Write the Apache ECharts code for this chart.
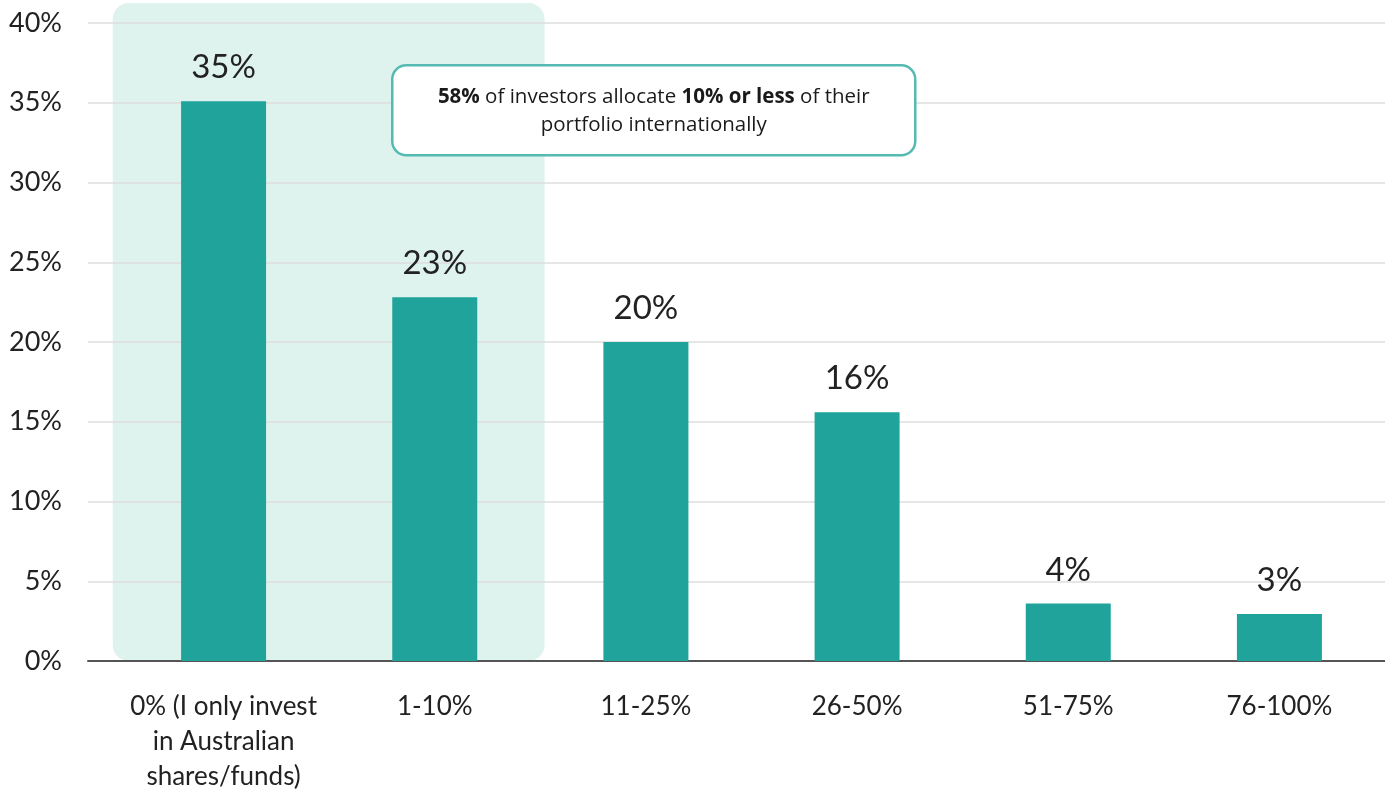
<!DOCTYPE html>
<html>
<head>
<meta charset="utf-8">
<script src="https://cdn.jsdelivr.net/npm/echarts@6/dist/echarts.min.js"></script>
<style>
html,body{margin:0;padding:0;background:#fff;}
#chart{width:1385px;height:789px;}
</style>
</head>
<body>
<div id="chart"></div>
<script>
const categories = ['0% (I only invest\nin Australian\nshares/funds)', '1-10%', '11-25%', '26-50%', '51-75%', '76-100%'];
const shares = [35.1, 22.8, 20.0, 15.6, 3.6, 2.95];
const yTicks = { min: 0, max: 40, interval: 5 };
const highlightCats = [0, 1];
const highlightTop = 41.25;

const FONT = 'Lato, "Noto Sans", sans-serif';
const NOTE_FONT = '"Open Sans", "Liberation Sans", sans-serif';
const chart = echarts.init(document.getElementById('chart'));

const option = {
  animation: false,
  backgroundColor: '#ffffff',
  grid: [
    { left: 88, right: 0, top: 23, bottom: 128, outerBoundsMode: 'none', containLabel: false },
    { left: 118, right: 0, top: 23, bottom: 128, outerBoundsMode: 'none', containLabel: false }
  ],
  xAxis: [
    { gridIndex: 0, type: 'category', data: [''],
      axisLine: { show: true, lineStyle: { color: '#555555', width: 2 } },
      axisTick: { show: false }, axisLabel: { show: false }, z: 3 },
    { gridIndex: 1, type: 'category', data: categories,
      axisLine: { show: false }, axisTick: { show: false },
      axisLabel: { color: '#222222', fontSize: 26, fontFamily: FONT, lineHeight: 35, margin: 28, interval: 0 } }
  ],
  yAxis: [
    { gridIndex: 0, type: 'value', min: yTicks.min, max: yTicks.max, interval: yTicks.interval,
      axisLine: { show: false }, axisTick: { show: false },
      axisLabel: { formatter: '{value}%', color: '#222222', fontSize: 27, fontFamily: FONT, margin: 26 },
      splitLine: { show: true, lineStyle: { color: '#dedede', width: 1.5 } } },
    { gridIndex: 1, type: 'value', min: yTicks.min, max: yTicks.max, interval: yTicks.interval, show: false,
      splitLine: { show: false } }
  ],
  series: [
    { type: 'bar', xAxisIndex: 1, yAxisIndex: 1, data: shares, barWidth: 85, z: 5,
      itemStyle: { color: '#1fa39b' },
      label: { show: true, position: 'top', distance: 17, color: '#222222', fontSize: 33, fontFamily: FONT,
        formatter: p => Math.round(p.value) + '%' } }
  ]
};
chart.setOption(option);

// highlight background for first two categories, positioned with the chart's own scales
const c0 = chart.convertToPixel({ xAxisIndex: 1, yAxisIndex: 1 }, [highlightCats[0], 0]);
const c1 = chart.convertToPixel({ xAxisIndex: 1, yAxisIndex: 1 }, [highlightCats[1], highlightTop]);
const band = chart.convertToPixel({ xAxisIndex: 1 }, 1) - chart.convertToPixel({ xAxisIndex: 1 }, 0);
const x0 = c0[0] - band * 0.525, x1 = c1[0] + band * 0.52;

chart.setOption({
  graphic: [
    { type: 'rect', z: -10, silent: true,
      shape: { x: x0, y: c1[1], width: x1 - x0, height: c0[1] - c1[1], r: 16 },
      style: { fill: '#dff3ee' } },
    { type: 'group', left: 391, top: 64, z: 100, children: [
      { type: 'rect', shape: { x: 0, y: 0, width: 523, height: 90, r: 14 },
        style: { fill: '#ffffff', stroke: '#55bab2', lineWidth: 2.5 } },
      { type: 'text', x: 261.5, y: 46,
        style: {
          text: '{b|58%} of investors allocate {b|10% or less} of their\nportfolio internationally',
          align: 'center', verticalAlign: 'middle',
          fontSize: 20.5, lineHeight: 28, fill: '#1a1a1a', fontFamily: NOTE_FONT,
          rich: { b: { fontWeight: 'bold', fontSize: 20.5, fill: '#1a1a1a', fontFamily: NOTE_FONT } }
        } }
    ] }
  ]
});
</script>
</body>
</html>
